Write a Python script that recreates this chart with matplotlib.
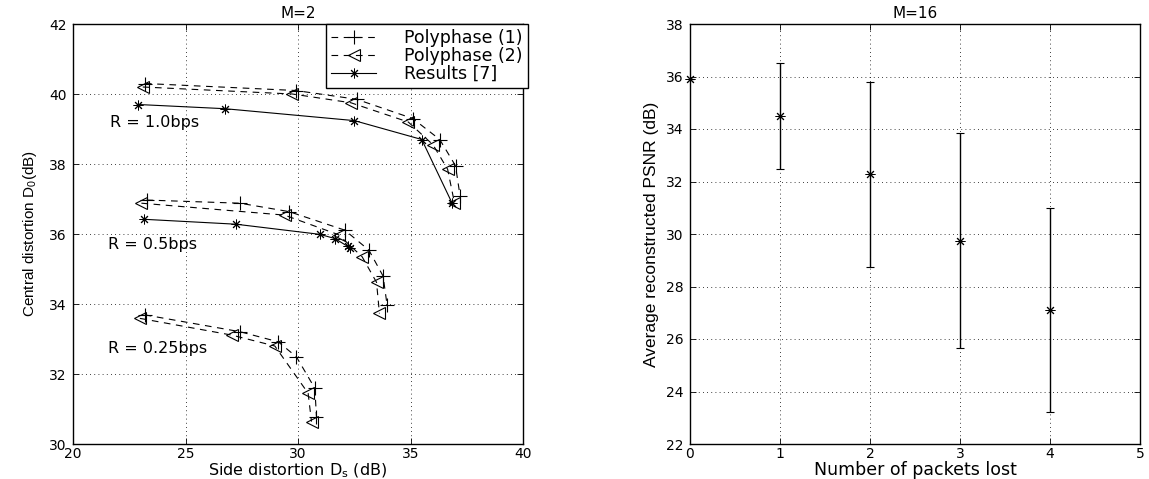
import matplotlib
matplotlib.use("Agg")
import matplotlib.pyplot as plt
from matplotlib.lines import Line2D
import numpy as np

plt.rcParams['font.family'] = ['DejaVu Sans']
plt.rcParams['mathtext.fontset'] = 'dejavusans'

# ---------------- Left panel data (M=2) ----------------
# R = 1.0 bps
r10_poly1_x = [23.2, 29.9, 32.6, 35.1, 36.3, 37.0, 37.2]
r10_poly1_y = [40.3, 40.1, 39.85, 39.3, 38.7, 37.95, 37.1]
r10_poly2_x = [23.1, 29.75, 32.35, 34.9, 36.0, 36.65, 36.95]
r10_poly2_y = [40.2, 40.0, 39.75, 39.2, 38.55, 37.85, 36.9]
r10_res_x = [22.9, 26.75, 32.5, 35.5, 36.85]
r10_res_y = [39.7, 39.58, 39.24, 38.7, 36.88]

# R = 0.5 bps
r05_poly1_x = [23.27, 27.42, 29.6, 32.08, 33.15, 33.78, 33.96]
r05_poly1_y = [36.97, 36.88, 36.64, 36.11, 35.54, 34.8, 33.97]
r05_poly2_x = [23.04, 29.4, 31.8, 32.85, 33.49, 33.62]
r05_poly2_y = [36.88, 36.54, 35.98, 35.35, 34.62, 33.73]
r05_res_x = [23.16, 27.24, 30.97, 31.64, 32.2, 32.3]
r05_res_y = [36.42, 36.28, 35.99, 35.87, 35.65, 35.6]

# R = 0.25 bps
r025_poly1_x = [23.19, 27.41, 29.12, 29.93, 30.75, 30.82]
r025_poly1_y = [33.69, 33.21, 32.92, 32.49, 31.59, 30.78]
r025_poly2_x = [22.97, 27.07, 28.97, 30.45, 30.6]
r025_poly2_y = [33.59, 33.11, 32.8, 31.45, 30.64]

rate_labels = ["R = 1.0bps", "R = 0.5bps", "R = 0.25bps"]
rate_label_pos = [(21.65, 39.2), (21.55, 35.69), (21.55, 32.73)]
legend_labels = ["Polyphase (1)", "Polyphase (2)", "Results [7]"]

# ---------------- Right panel data (M=16) ----------------
packets_lost = [0, 1, 2, 3, 4]
psnr_mean = [35.89, 34.48, 32.27, 29.75, 27.10]
psnr_upper = [35.89, 36.51, 35.78, 33.85, 31.00]
psnr_lower = [35.89, 32.46, 28.76, 25.64, 23.21]

fig = plt.figure(figsize=(11.49, 4.79), dpi=100)
ax1 = fig.add_axes([73/1149, 1-444/479, 450/1149, 420/479])
ax2 = fig.add_axes([690/1149, 1-444/479, 450/1149, 420/479])

grid_kw = dict(color='black', linestyle=(0, (1, 4)), linewidth=0.6)
lw = 0.8
narrow = ['Liberation Sans Narrow', 'Liberation Sans', 'DejaVu Sans']

def style_axes(ax):
    ax.tick_params(direction='in', length=4, width=0.6, top=True, right=True,
                   labelsize=10, pad=2.5)
    ax.tick_params(axis='y', pad=4.5)
    for s in ax.spines.values():
        s.set_linewidth(1.0)
    ax.grid(True, **grid_kw)

# Left panel
series = [
    (r10_poly1_x, r10_poly1_y, r10_poly2_x, r10_poly2_y, r10_res_x, r10_res_y),
    (r05_poly1_x, r05_poly1_y, r05_poly2_x, r05_poly2_y, r05_res_x, r05_res_y),
    (r025_poly1_x, r025_poly1_y, r025_poly2_x, r025_poly2_y, None, None),
]
dash = (0, (6, 5))
for p1x, p1y, p2x, p2y, rx, ry in series:
    ax1.plot(p1x, p1y, color='black', linestyle=dash, linewidth=lw,
             marker='+', markersize=10, markeredgewidth=0.8)
    ax1.plot(p2x, p2y, color='black', linestyle=dash, linewidth=lw,
             marker='<', markersize=8, markerfacecolor='none', markeredgewidth=0.8)
    if rx is not None:
        ax1.plot(rx, ry, color='black', linestyle='-', linewidth=lw,
                 marker=(8, 2, 0), markersize=7, markeredgewidth=0.7)

for txt, (tx, ty) in zip(rate_labels, rate_label_pos):
    ax1.text(tx, ty, txt, fontsize=11.5, ha='left', va='center')

ax1.set_xlim(20, 40)
ax1.set_ylim(30, 42)
ax1.set_xticks([20, 25, 30, 35, 40])
ax1.set_yticks([30, 32, 34, 36, 38, 40, 42])
style_axes(ax1)
ax1.set_title("M=2", fontsize=11, pad=4)
ax1.set_xlabel("Side distortion D$_\\mathregular{s}$ (dB)", fontsize=11.5, labelpad=0)
ax1.set_ylabel("Central distortion D$_\\mathregular{0}$(dB)", fontsize=11,
               family=narrow, labelpad=7)

handles = [
    Line2D([], [], color='black', linestyle=dash, linewidth=lw, marker='+',
           markersize=10, markeredgewidth=0.8),
    Line2D([], [], color='black', linestyle=dash, linewidth=lw, marker='<',
           markersize=8, markerfacecolor='none', markeredgewidth=0.8),
    Line2D([], [], color='black', linestyle='-', linewidth=lw, marker=(8, 2, 0),
           markersize=7, markeredgewidth=0.7),
]
leg = ax1.legend(handles, legend_labels, loc='upper right', bbox_to_anchor=(1.011, 1.0),
                 borderaxespad=0, fontsize=12.5, handlelength=2.6, labelspacing=0.0,
                 handletextpad=1.6, borderpad=0.3,
                 fancybox=False, framealpha=1, edgecolor='black')
leg.get_frame().set_linewidth(1.0)

# Right panel
mean = np.array(psnr_mean)
yerr = np.vstack([mean - np.array(psnr_lower), np.array(psnr_upper) - mean])
ax2.errorbar(packets_lost, psnr_mean, yerr=yerr, fmt='none', ecolor='black',
             elinewidth=1.0, capsize=3, capthick=0.8)
ax2.plot(packets_lost, psnr_mean, linestyle='none', color='black',
         marker=(8, 2, 0), markersize=7, markeredgewidth=0.7, clip_on=False)
ax2.set_xlim(0, 5)
ax2.set_ylim(22, 38)
ax2.set_xticks([0, 1, 2, 3, 4, 5])
ax2.set_yticks(list(range(22, 39, 2)))
style_axes(ax2)
ax2.set_title("M=16", fontsize=11, pad=4)
ax2.set_xlabel("Number of packets lost", fontsize=12.5, labelpad=0)
ax2.set_ylabel("Average reconstructed PSNR (dB)", fontsize=12.5,
               family=narrow, labelpad=5)

fig.savefig("out.png", dpi=100)
